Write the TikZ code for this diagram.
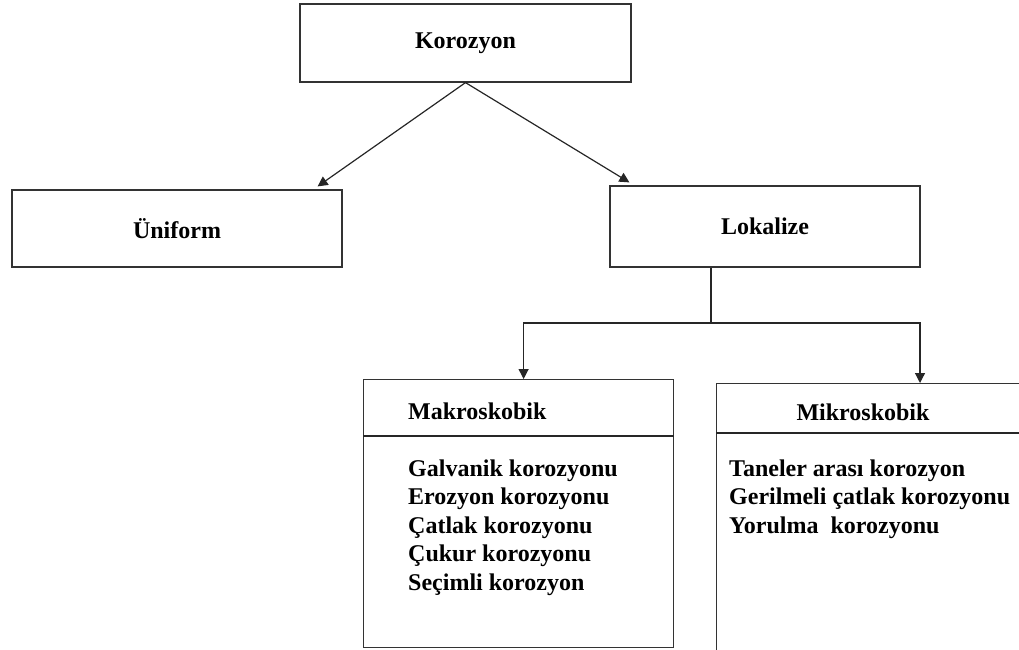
\documentclass[tikz,border=0pt]{standalone}
\usepackage{fontspec}
\setmainfont{Liberation Serif}
\usetikzlibrary{arrows.meta}

\begin{document}
\begin{tikzpicture}[x=1pt, y=-1pt,
  box/.style={draw=black!80, line width=1.2pt, inner sep=0pt, font=\fontsize{24}{28.5}\selectfont\bfseries},
  txt/.style={inner sep=0pt, align=left, font=\fontsize{24}{28.5}\selectfont\bfseries},
  wire/.style={draw=black!85, line width=1.2pt},
  arr/.style={wire, -{Triangle[length=10pt,width=10pt]}}]
\useasboundingbox (0,0) rectangle (1019,649);
\clip (0,0) rectangle (1019,649);
\node[box, minimum width=331, minimum height=78] (korozyon) at (465.5,43) {Korozyon};
\node[box, minimum width=330, minimum height=77] (uniform) at (177,228.5) {Üniform};
\node[box, minimum width=310, minimum height=81] (lokalize) at (765,226.5) {Lokalize};
\node[box, minimum width=310, minimum height=268, anchor=north west] (makro) at (363,379) {};
\node[box, minimum width=330, minimum height=300, anchor=north west] (mikro) at (716,383) {};
\draw[wire] ([yshift=-57pt]makro.north west) -- ([yshift=-57pt]makro.north east);
\draw[wire] ([yshift=-50pt]mikro.north west) -- ([yshift=-50pt]mikro.north east);
\node[txt, anchor=west] (makrohead) at ([xshift=45pt,yshift=-32pt]makro.north west) {Makroskobik};
\node[txt] (mikrohead) at ([xshift=147pt,yshift=-29pt]mikro.north west) {Mikroskobik};
\node[txt, anchor=north west] (makrolist) at ([xshift=45pt,yshift=-80.4pt]makro.north west)
  {Galvanik korozyonu\\Erozyon korozyonu\\Çatlak korozyonu\\Çukur korozyonu\\Seçimli korozyon};
\node[txt, anchor=north west] (mikrolist) at ([xshift=13pt,yshift=-76.4pt]mikro.north west)
  {Taneler arası korozyon\\Gerilmeli çatlak korozyonu\\Yorulma\ \ korozyonu};
\draw[arr] (korozyon.south) -- ([xshift=-25pt,yshift=3pt]uniform.north east);
\draw[arr] (korozyon.south) -- ([xshift=20pt,yshift=3pt]lokalize.north west);
\coordinate (split) at (711,323);
\draw[wire] (lokalize.south -| split) -- (split);
\draw[arr] (split) -| ([xshift=5pt]makro.north);
\draw[arr] (split) -| ([xshift=204pt]mikro.north west);
\end{tikzpicture}
\end{document}
